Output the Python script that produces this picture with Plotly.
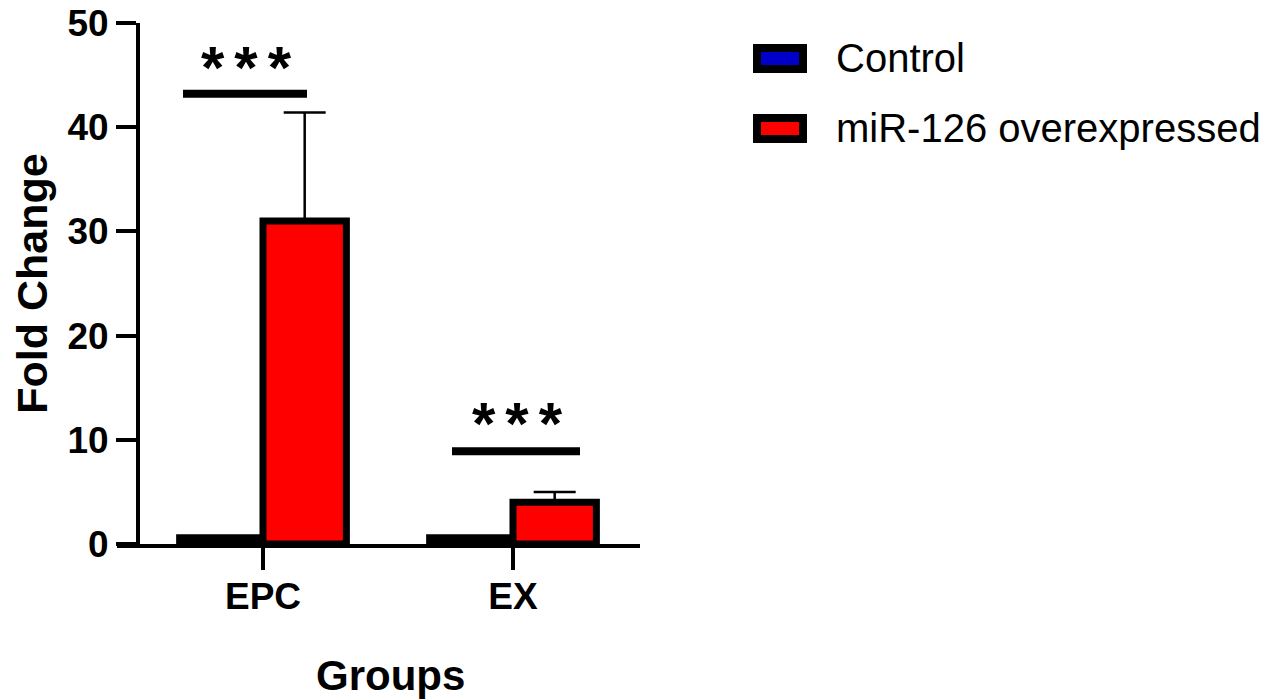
import plotly.graph_objects as go

# ---- data ----
categories = ["EPC", "EX"]
series_names = ["Control", "miR-126 overexpressed"]
control_values = [0.6, 0.6]
mir126_values = [31.0, 4.0]
mir126_err_upper = [10.4, 1.0]
y_ticks = [0, 10, 20, 30, 40, 50]
sig_labels = ["***", "***"]
sig_line_y = [43.2, 8.9]
sig_line_x = [(-0.32, 0.176), (0.756, 1.268)]
sig_text_pos = [(-0.068, 46.35), (1.018, 12.1)]
x_title = "Groups"
y_title = "Fold Change"

colors = ["#0000C8", "#FF0000"]
FONT = "Liberation Sans, Arial, sans-serif"

fig = go.Figure()
fig.add_trace(go.Bar(
    x=categories, y=control_values, name=series_names[0],
    marker=dict(color=colors[0], line=dict(color="black", width=7)),
    showlegend=False,
))
fig.add_trace(go.Bar(
    x=categories, y=mir126_values, name=series_names[1],
    marker=dict(color=colors[1], line=dict(color="black", width=7)),
    error_y=dict(type="data", array=mir126_err_upper, arrayminus=[0] * len(categories),
                 symmetric=False, color="black", thickness=2.5, width=21),
    showlegend=False,
))

# plot area in page pixels (page body has an 8px offset)
OFF = 8
PL, PR, PT, PB = 117, 640, 23, 544
W, H = 1278, 700
L, T = PL - OFF, PT - OFF
R, B = W - (PR - OFF), H - (PB - OFF)

fig.update_layout(
    width=W, height=H,
    margin=dict(l=L, r=R, t=T, b=B, pad=0, autoexpand=False),
    paper_bgcolor="white", plot_bgcolor="white",
    barmode="group", bargap=0.333, bargroupgap=0,
    font=dict(family=FONT, color="black"),
    showlegend=False,
)
fig.update_xaxes(
    type="category", range=[-0.584, 1.508], automargin=False,
    showline=True, linewidth=4, linecolor="black",
    ticks="outside", ticklen=22, tickwidth=4, tickcolor="black",
    tickfont=dict(family=FONT, size=37, weight="bold"),
    ticklabelstandoff=-5, ticklabeloverflow="allow",
    showgrid=False, zeroline=False,
)
fig.update_yaxes(
    range=[0, 50], tickvals=y_ticks, automargin=False,
    anchor="free", position=(138 - PL) / (PR - PL),
    showline=True, linewidth=4, linecolor="black",
    ticks="outside", ticklen=20, tickwidth=4, tickcolor="black",
    tickfont=dict(family=FONT, size=37, weight="bold"),
    ticklabeloverflow="allow",
    showgrid=False, zeroline=False,
    title=dict(text=y_title, font=dict(family=FONT, size=43, weight="bold"), standoff=18),
)

pw, ph = PR - PL, PB - PT
def px(xp):
    return (xp - PL) / pw
def py(yp):
    return (PB - yp) / ph

# x-axis title
fig.add_annotation(x=px(390), y=py(675), xref="paper", yref="paper",
                   xanchor="center", yanchor="middle", showarrow=False,
                   text=x_title, font=dict(family=FONT, size=42, weight="bold", color="black"))

# significance bars and asterisks
for (x0, x1), yv, lab, (tx, ty) in zip(sig_line_x, sig_line_y, sig_labels, sig_text_pos):
    fig.add_shape(type="line", xref="x", yref="y", x0=x0, x1=x1, y0=yv, y1=yv,
                  line=dict(color="black", width=8))
    fig.add_annotation(x=tx, y=ty, xref="x", yref="y", text="\u2006".join(lab),
                       showarrow=False, yshift=-6,
                       font=dict(family=FONT, size=60, weight="bold", color="black"))

# legend (drawn manually to match large swatches); positions in page pixels
legend_rows_y = [58, 128]
for name, col, yc in zip(series_names, colors, legend_rows_y):
    fig.add_shape(type="rect", xref="paper", yref="paper",
                  x0=px(757), x1=px(803), y0=py(yc + 11), y1=py(yc - 10),
                  fillcolor=col, line=dict(color="black", width=8))
    fig.add_annotation(x=px(834), y=py(yc), xref="paper", yref="paper",
                       xanchor="left", yanchor="middle", showarrow=False,
                       text=name, font=dict(family=FONT, size=40, color="black"))

fig.write_html("out.html")
